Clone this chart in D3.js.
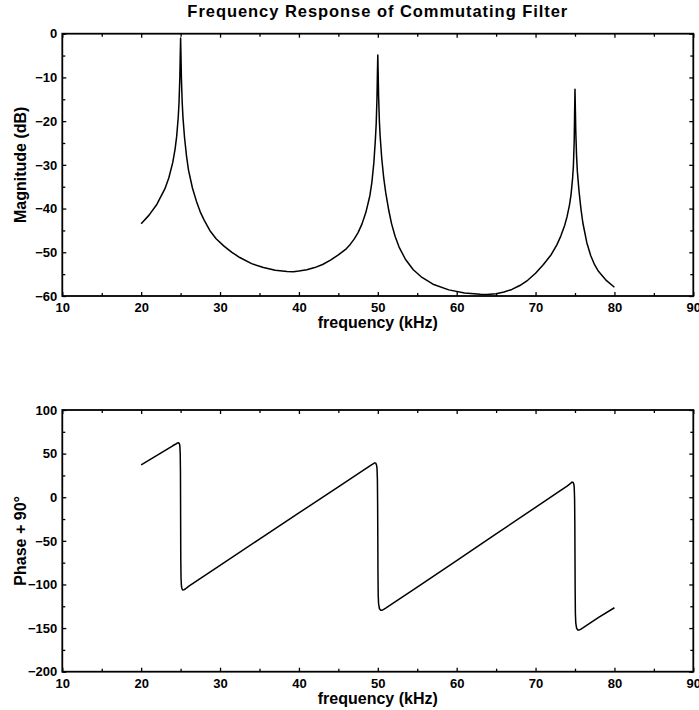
<!DOCTYPE html>
<html>
<head>
<meta charset="utf-8">
<script src="https://cdn.jsdelivr.net/npm/d3@7/dist/d3.min.js"></script>
<style>
  html, body { margin: 0; padding: 0; background: #fff; }
  svg { display: block; }
  .tick text { font-family: "Liberation Sans", Arial, sans-serif; font-weight: bold; font-size: 13px; fill: #000; }
  .axis-title { font-family: "Liberation Sans", Arial, sans-serif; font-weight: bold; font-size: 16px; fill: #000; }
  .chart-title { font-family: "Liberation Sans", Arial, sans-serif; font-weight: bold; font-size: 16.5px; letter-spacing: 0.95px; fill: #000; }
</style>
</head>
<body>
<script>
// Magnitude response (dB) sampled over frequency (kHz)
const magFreq = [
  20, 21, 22, 23, 23.5, 24, 24.3, 24.5, 24.7, 24.8, 24.9, 24.95, 25,
  25.05, 25.1, 25.2, 25.3, 25.5, 25.75, 26, 26.5, 27, 27.5, 28, 28.7, 29.5, 30.5, 31.5, 32.5, 34, 35.5, 37, 38.5, 39.3,
  40, 41, 42, 43, 44, 45, 46, 46.5, 47, 47.5, 48, 48.5, 49, 49.25, 49.5, 49.7, 49.8, 49.9, 49.95, 50,
  50.05, 50.1, 50.2, 50.3, 50.5, 50.75, 51, 51.4, 51.75, 52.2, 52.7, 53.5, 54.5, 55.5, 57, 59, 61, 63, 63.8,
  65, 66, 67, 68, 69, 70, 71, 72, 72.7, 73.2, 73.7, 74, 74.3, 74.5, 74.7, 74.8, 74.9, 74.95, 75,
  75.05, 75.1, 75.2, 75.3, 75.5, 75.75, 76, 76.5, 77, 77.5, 78, 79, 80
];
const magDb = [
  -43.5, -41.5, -39.0, -35.5, -33.0, -29.5, -26.4, -23.5, -19.1, -15.7, -10.1, -5.4, -1.0,
  -5.4, -10.1, -15.7, -19.2, -23.8, -28.0, -31.2, -35.3, -38.3, -40.8, -42.7, -45.0, -46.9, -48.6, -50.0, -51.2, -52.6, -53.5, -54.1, -54.4, -54.45,
  -54.3, -54.0, -53.5, -52.8, -51.8, -50.6, -49.2, -48.2, -47.0, -45.5, -43.5, -40.8, -37.0, -34.0, -29.5, -24.0, -20.5, -14.5, -9.3, -4.9,
  -9.3, -14.2, -20.0, -23.5, -28.5, -33.0, -36.3, -40.5, -43.5, -46.4, -48.8, -51.6, -54.0, -55.6, -57.3, -58.6, -59.3, -59.6, -59.65,
  -59.5, -59.1, -58.5, -57.6, -56.4, -54.8, -52.8, -50.5, -48.3, -46.3, -43.8, -41.8, -39.2, -36.8, -33.0, -30.2, -24.5, -18.5, -12.7,
  -17.5, -22.3, -28.0, -31.5, -35.8, -40.0, -43.3, -47.8, -50.8, -52.9, -54.4, -56.5, -58.0
];

// Phase + 90 degrees sampled over frequency (kHz)
const phaseFreq = [
  20, 21, 22, 23, 24, 24.4, 24.6, 24.75, 24.85, 24.9, 24.95, 24.98, 25,
  25.02, 25.05, 25.1, 25.15, 25.25, 25.4, 25.6, 26, 30, 35, 40, 45, 48, 49, 49.4, 49.6,
  49.75, 49.85, 49.9, 49.95, 49.98, 50,
  50.02, 50.05, 50.1, 50.2, 50.35, 50.5, 50.7, 51, 55, 60, 65, 70, 73, 74, 74.4, 74.6,
  74.75, 74.85, 74.9, 74.95, 74.98, 75,
  75.02, 75.05, 75.1, 75.2, 75.35, 75.5, 75.7, 76, 78, 80
];
const phaseDeg = [
  37.0, 42.5, 48.0, 53.5, 59.0, 61.0, 62.2, 62.5, 61.2, 59.0, 50.0, 30.0, -20.0,
  -70.0, -92.0, -101.0, -104.0, -106.4, -106.2, -105.2, -102.2, -78.0, -48.0, -18.0, 12.0, 30.0, 36.0, 38.3, 39.4,
  39.0, 36.5, 33.0, 20.0, -10.0, -45.0,
  -85.0, -112.0, -122.0, -127.5, -129.5, -129.6, -128.8, -127.2, -103.0, -72.6, -42.1, -11.6, 6.7, 12.8, 15.5, 17.3,
  17.2, 15.0, 12.0, -2.0, -30.0, -67.0,
  -105.0, -133.0, -144.0, -150.0, -152.2, -152.3, -151.4, -149.8, -137.7, -126.7
];

// Axis ticks
const freqTicks = [10, 20, 30, 40, 50, 60, 70, 80, 90];
const freqMinor = [15, 25, 35, 45, 55, 65, 75, 85];
const magTicks = [0, -10, -20, -30, -40, -50, -60];
const magMinor = [-5, -15, -25, -35, -45, -55];
const phaseTicks = [100, 50, 0, -50, -100, -150, -200];
const phaseMinor = [75, 25, -25, -75, -125, -175];

const W = 699, H = 710;
const svg = d3.select("body").append("svg").attr("width", W).attr("height", H);

const left = 62.3, right = 693.3;
const x = d3.scaleLinear().domain([10, 90]).range([left, right]);

function panel(top, bottom, yDomain, yTicks, yMinor, xs, ys, yTitle) {
  const y = d3.scaleLinear().domain(yDomain).range([bottom, top]);
  const g = svg.append("g");

  const major = 4, minor = 3;
  // bottom axis with labels
  g.append("g").attr("transform", `translate(0,${bottom})`)
    .call(d3.axisBottom(x).tickValues(freqTicks).tickSize(-major).tickSizeOuter(0).tickPadding(7).tickFormat(d3.format("d")));
  g.append("g").attr("transform", `translate(0,${bottom})`)
    .call(d3.axisBottom(x).tickValues(freqMinor).tickSize(-minor).tickSizeOuter(0).tickFormat(""));
  // top axis, ticks only
  g.append("g").attr("transform", `translate(0,${top})`)
    .call(d3.axisTop(x).tickValues(freqTicks).tickSize(-major).tickSizeOuter(0).tickFormat(""));
  g.append("g").attr("transform", `translate(0,${top})`)
    .call(d3.axisTop(x).tickValues(freqMinor).tickSize(-minor).tickSizeOuter(0).tickFormat(""));
  // left axis with labels
  g.append("g").attr("transform", `translate(${left},0)`)
    .call(d3.axisLeft(y).tickValues(yTicks).tickSize(-major).tickSizeOuter(0).tickPadding(5).tickFormat(d3.format("d")));
  g.append("g").attr("transform", `translate(${left},0)`)
    .call(d3.axisLeft(y).tickValues(yMinor).tickSize(-minor).tickSizeOuter(0).tickFormat(""));
  // right axis, ticks only
  g.append("g").attr("transform", `translate(${right},0)`)
    .call(d3.axisRight(y).tickValues(yTicks).tickSize(-major).tickSizeOuter(0).tickFormat(""));
  g.append("g").attr("transform", `translate(${right},0)`)
    .call(d3.axisRight(y).tickValues(yMinor).tickSize(-minor).tickSizeOuter(0).tickFormat(""));

  g.selectAll(".domain").remove();
  g.selectAll(".tick line").attr("stroke", "#000").attr("stroke-width", 1.3);

  // plot frame
  g.append("rect")
    .attr("x", left).attr("y", top)
    .attr("width", right - left).attr("height", bottom - top)
    .attr("fill", "none").attr("stroke", "#000").attr("stroke-width", 1.8);

  // data curve
  const pts = xs.map((f, i) => [f, ys[i]]);
  g.append("path")
    .datum(pts)
    .attr("fill", "none").attr("stroke", "#000").attr("stroke-width", 1.5)
    .attr("stroke-linejoin", "round")
    .attr("d", d3.line().x(d => x(d[0])).y(d => y(d[1])));

  // axis titles
  g.append("text").attr("class", "axis-title")
    .attr("x", (left + right) / 2).attr("y", bottom + 32)
    .attr("text-anchor", "middle").text("frequency (kHz)");
  g.append("text").attr("class", "axis-title")
    .attr("transform", `translate(26,${(top + bottom) / 2}) rotate(-90)`)
    .attr("text-anchor", "middle").text(yTitle);
}

svg.append("text").attr("class", "chart-title")
  .attr("x", (left + right) / 2).attr("y", 17)
  .attr("text-anchor", "middle")
  .text("Frequency Response of Commutating Filter");

panel(33.7, 296, [-60, 0], magTicks, magMinor, magFreq, magDb, "Magnitude (dB)");
panel(410, 671.7, [-200, 100], phaseTicks, phaseMinor, phaseFreq, phaseDeg, "Phase + 90°");
</script>
</body>
</html>
